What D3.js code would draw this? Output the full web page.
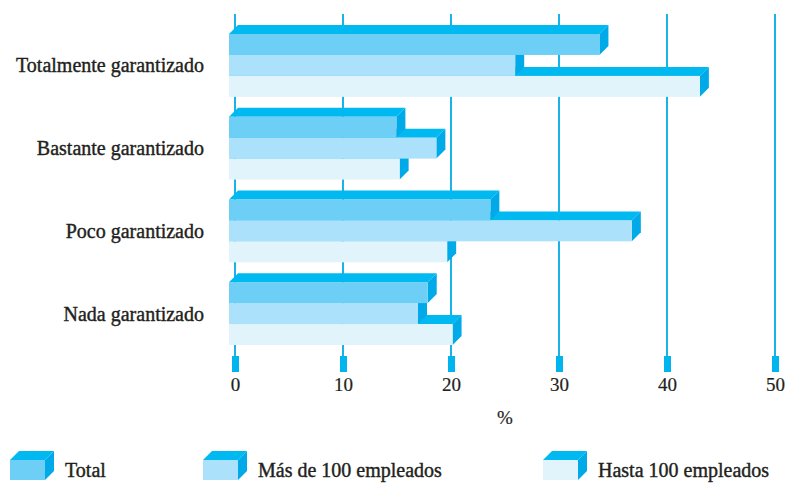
<!DOCTYPE html>
<html>
<head>
<meta charset="utf-8">
<script src="https://cdn.jsdelivr.net/npm/d3@7"></script>
<style>
  html, body { margin: 0; padding: 0; background: #fff; }
  svg { display: block; }
  text { font-family: "Liberation Serif", "Times New Roman", serif; fill: #231f20; stroke: #231f20; stroke-width: 0.4px; }
</style>
</head>
<body>
<svg id="chart" width="789" height="483"></svg>
<script>
// Categories (top to bottom), series and values in %
const categories = ["Totalmente garantizado", "Bastante garantizado", "Poco garantizado", "Nada garantizado"];
const seriesNames = ["Total", "Más de 100 empleados", "Hasta 100 empleados"];
const totalValues = [34.3, 15.5, 24.2, 18.4];
const masDe100Values = [26.5, 19.2, 37.3, 17.5];
const hasta100Values = [43.6, 15.8, 20.2, 20.7];
const xTickValues = [0, 10, 20, 30, 40, 50];
const axisTitle = "%";

const seriesValues = [totalValues, masDe100Values, hasta100Values];
const frontColors = ["#6dcff6", "#abe1fa", "#e1f3fb"];
const topColor = "#00b9f0";
const sideColor = "#00aae8";
const gridColor = "#19b3ea";

const svg = d3.select("#chart");

// Pick a label size so the longest category label is about 189px wide
const probe = svg.append("text").attr("font-size", 18).text(categories[0]);
const probeW = probe.node().getComputedTextLength();
probe.remove();
const fontSize = Math.min(20, 18 * 189 / probeW);

const x = d3.scaleLinear().domain([0, 50]).range([235, 775]);
const y = d3.scaleBand().domain(categories).range([34, 345]).paddingInner(0.24).paddingOuter(0);
const ySub = d3.scaleBand().domain(seriesNames).range([0, y.bandwidth()]).padding(0);

const depth = 9;      // 3D extrusion offset (right and up)
const shiftX = -6;    // front face sits slightly left of the value line

// Vertical grid lines
svg.append("g").selectAll("line")
  .data(xTickValues)
  .join("line")
  .attr("x1", d => x(d)).attr("x2", d => x(d))
  .attr("y1", 14).attr("y2", 358)
  .attr("stroke", gridColor)
  .attr("stroke-width", 2);

// Tick markers below the plot
svg.append("g").selectAll("rect")
  .data(xTickValues)
  .join("rect")
  .attr("x", d => x(d) - 3)
  .attr("y", 356)
  .attr("width", 7)
  .attr("height", 16)
  .attr("fill", "#00b4ee");

// Tick labels through a bottom axis
const axis = svg.append("g")
  .attr("transform", "translate(0,373)")
  .call(d3.axisBottom(x).tickValues(xTickValues).tickSize(0).tickPadding(5).tickFormat(d3.format("d")));
axis.select(".domain").remove();
axis.selectAll("text")
  .attr("font-family", null)
  .attr("font-size", fontSize - 1)
  .attr("fill", "#231f20")
  .style("stroke-width", "0.2px");

svg.append("text")
  .attr("x", (x(0) + x(50)) / 2)
  .attr("y", 424)
  .attr("text-anchor", "middle")
  .attr("font-size", fontSize - 1)
  .style("stroke-width", "0.2px")
  .text(axisTitle);

// 3D bar drawing helper
function bar3d(g, x0, x1, y0, h, front) {
  const d = depth;
  g.append("polygon")
    .attr("points", [[x0, y0], [x0 + d, y0 - d], [x1 + d, y0 - d], [x1, y0]].map(p => p.join(",")).join(" "))
    .attr("fill", topColor);
  g.append("polygon")
    .attr("points", [[x1, y0], [x1 + d, y0 - d], [x1 + d, y0 + h - d], [x1, y0 + h]].map(p => p.join(",")).join(" "))
    .attr("fill", sideColor);
  g.append("rect")
    .attr("x", x0).attr("y", y0)
    .attr("width", x1 - x0).attr("height", h)
    .attr("fill", front);
}

// Bars: within a group draw bottom series first so upper faces overlap correctly
const bars = svg.append("g");
categories.forEach((cat, ci) => {
  for (let si = seriesNames.length - 1; si >= 0; si--) {
    const v = seriesValues[si][ci];
    const g = bars.append("g");
    bar3d(g, x(0) + shiftX, x(v) + shiftX, y(cat) + ySub(seriesNames[si]), ySub.bandwidth(), frontColors[si]);
  }
});

// Category labels
svg.append("g").selectAll("text")
  .data(categories)
  .join("text")
  .attr("x", 204)
  .attr("y", d => y(d) + y.bandwidth() / 2)
  .attr("dy", "0.35em")
  .attr("text-anchor", "end")
  .attr("font-size", fontSize)
  .text(d => d);

// Legend
const legendX = [10, 203, 543];
const legend = svg.append("g");
seriesNames.forEach((name, i) => {
  const g = legend.append("g");
  bar3d(g, legendX[i], legendX[i] + 35, 460, 20, frontColors[i]);
  g.append("text")
    .attr("x", legendX[i] + 55)
    .attr("y", 477)
    .attr("font-size", fontSize)
    .text(name);
});
</script>
</body>
</html>
